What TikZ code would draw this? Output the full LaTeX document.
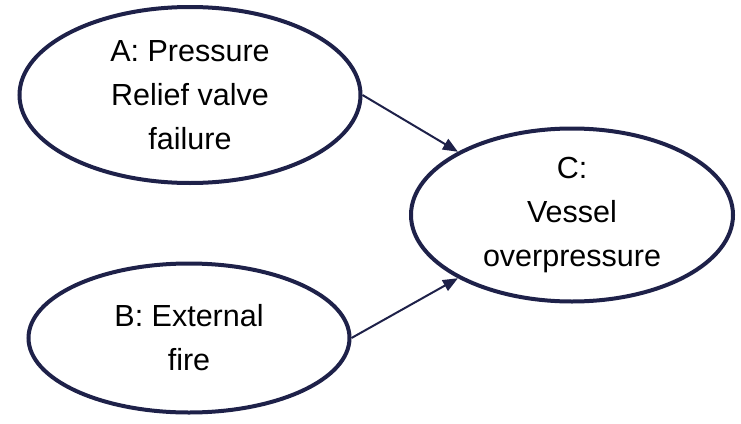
\documentclass[tikz,border=0pt]{standalone}
\usepackage{fontspec}
\setmainfont{Liberation Sans}
\usetikzlibrary{shapes.geometric,arrows.meta}
\definecolor{navy}{HTML}{1E2149}
\begin{document}
\begin{tikzpicture}[x=1pt,y=-1pt,
  ev/.style={ellipse,draw=navy,line width=4pt,inner sep=0pt,align=center,
    font=\fontsize{30.5pt}{44pt}\selectfont},
  conn/.style={draw=navy,line width=2pt,-{Triangle[length=15pt,width=12pt]}}]
\useasboundingbox (0,0) rectangle (741,423);
\node[ev,minimum width=341pt,minimum height=176pt] (A) at (190,95) {A: Pressure\\Relief valve\\failure};
\node[ev,minimum width=321pt,minimum height=149pt] (B) at (189,338) {B: External\\fire};
\node[ev,minimum width=322pt,minimum height=173pt] (C) at (572,215) {C:\\Vessel\\overpressure};
\draw[conn] (A.east) -- (C.151);
\draw[conn] (B.east) -- (C.209);
\end{tikzpicture}
\end{document}
